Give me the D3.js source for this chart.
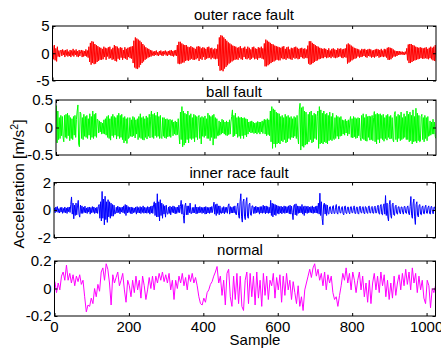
<!DOCTYPE html>
<html>
<head>
<meta charset="utf-8">
<script src="https://cdn.jsdelivr.net/npm/d3@7"></script>
<style>
  html, body { margin: 0; padding: 0; background: #fff; }
  svg { display: block; font-family: "Liberation Sans", Arial, Helvetica, sans-serif; }
  text { fill: #000; }
</style>
</head>
<body>
<svg id="chart" width="441" height="350"></svg>
<script>
// Vibration records, 1024 samples each, stored at reduced resolution.
const sampleCount = 1024;

const outerRace = [
  1.4,-1.1,1.5,-1.3,0.9,-1.5,1.2,
  -0.6,0.5,-0.7,0.4,0.6,-0.5,0.7,-0.3,0.5,-0.7,0.6,-0.4,0.7,-0.6,0.3,-0.5,0.6,-0.7,0.5,-0.4,
  0.8,-0.6,0.5,-0.3,0.7,-0.6,0.4,-0.7,0.6,-0.5,0.3,0.6,-0.7,0.5,-0.6,0.4,-0.5,0.7,-0.6,0.5,-0.8,
  1.2,-1.6,1.9,-2.1,2.2,-1.8,2.1,-2.0,1.7,-1.9,1.5,-1.6,1.3,-1.4,1.1,-1.2,
  1.0,-1.2,0.8,-1.1,1.2,-0.7,1.0,-1.2,0.9,-0.6,1.1,-1.0,1.2,-0.9,0.7,-1.2,1.0,-1.1,1.5,-1.4,
  1.3,-1.5,1.2,-1.0,0.9,-1.2,1.1,-0.8,1.0,-1.2,0.6,-0.9,1.1,-1.0,0.8,-1.2,1.0,-0.7,1.1,-0.9,1.2,-1.0,
  1.3,-1.8,2.3,-2.6,2.9,-2.8,2.7,-2.9,2.5,-2.6,2.3,-2.1,2.0,-1.8,1.7,-1.5,1.4,-1.2,1.1,-1.0,0.9,-0.8,0.8,-0.7,0.6,-0.6,
  0.5,-0.4,0.3,-0.5,0.4,-0.3,0.5,-0.4,0.2,-0.5,0.4,-0.3,0.5,-0.4,0.3,-0.5,0.4,-0.2,0.5,-0.4,
  0.3,-0.5,0.4,-0.3,0.5,-0.4,0.6,-0.5,0.4,-0.6,0.5,-0.4,0.6,-0.5,
  1.5,-1.9,2.1,-2.0,2.1,-1.9,1.8,-1.7,1.6,-1.7,1.5,-1.4,1.5,-1.3,1.2,-1.4,1.1,-1.2,1.3,-1.0,1.1,-1.2,
  1.0,-1.2,0.8,-1.1,1.2,-0.9,1.3,-1.4,1.2,-1.0,0.9,-1.2,1.1,-0.7,1.0,-1.2,0.8,-1.0,1.1,-0.9,
  1.2,-0.8,0.9,-1.1,1.0,-0.8,0.7,-1.0,0.9,-1.1,0.8,-1.0,
  1.6,-2.3,2.9,-3.2,3.3,-3.1,3.2,-3.3,2.9,-2.8,2.6,-2.5,2.3,-2.2,2.0,-1.9,1.8,-1.7,1.6,-1.5,1.4,-1.3,1.3,-1.2,1.2,-1.1,
  1.0,-1.2,1.1,-0.8,1.3,-1.1,0.9,-1.2,1.0,-0.7,1.2,-1.0,0.8,-1.1,1.2,-0.9,1.0,-1.2,0.7,-1.0,
  1.1,-0.8,1.2,-1.1,0.9,-1.0,0.8,-1.2,1.1,-0.9,1.0,-0.8,1.2,-1.0,0.9,-1.1,
  1.8,-2.4,2.5,-2.4,2.3,-2.2,2.1,-2.0,1.9,-1.8,1.7,-1.6,1.6,-1.5,1.4,-1.3,1.3,-1.2,1.2,-1.3,
  1.1,-1.3,1.0,-0.9,1.2,-1.1,1.3,-1.0,0.8,-1.2,1.1,-0.9,1.2,-1.0,0.7,-1.1,1.0,-1.2,0.9,-0.8,
  1.1,-1.0,1.2,-0.9,1.0,-1.1,0.8,-1.0,0.9,-0.7,1.0,-0.9,0.8,-1.0,0.9,-0.8,0.7,-0.9,
  1.4,-1.9,2.2,-2.1,2.2,-2.0,1.9,-1.8,1.7,-1.6,1.5,-1.4,1.3,-1.3,1.2,-1.1,1.0,-1.0,0.9,-0.9,0.8,-0.9,
  0.9,-0.7,0.8,-0.9,0.6,-0.8,0.9,-0.7,0.5,-0.9,0.8,-0.6,0.9,-0.8,0.7,-0.9,0.6,-0.8,0.9,-0.7,
  0.8,-0.6,0.9,-0.8,0.7,-0.9,0.8,-0.7,0.9,-0.8,
  1.6,-1.9,1.8,-1.7,1.6,-1.5,1.4,-1.3,1.2,-1.1,1.0,-1.0,0.9,-0.9,
  0.8,-0.6,0.7,-0.8,0.5,-0.7,0.8,-0.6,0.7,-0.5,0.8,-0.7,0.6,-0.8,0.7,-0.5,0.8,-0.6,0.7,-0.8,
  0.5,-0.7,0.6,-0.8,0.7,-0.6,0.8,-0.5,0.7,-0.8,0.6,-0.7,0.8,-0.6,0.5,-0.7,0.8,-0.6,0.7,-0.8,
  1.0,-1.2,1.1,-1.2,1.0,-1.1,0.9,-0.8,0.7,-0.6,0.5,-0.6,0.4,-0.5,0.4,-0.3,0.4,-0.3,
  0.3,-0.2,0.3,-0.3,0.2,-0.3,0.3,-0.2,
  0.9,-1.3,1.6,-1.8,1.7,-1.8,1.7,-1.6,1.5,-1.4,1.4,-1.3,1.2,-1.2,1.1,-1.1,1.0,-1.0,1.1,-0.9,1.0,-1.0,0.9,-1.0,
  1.0,-0.9,1.1,-1.0,0.8,-1.1,1.0,-0.9,1.2,-1.1,1.0,-1.3,1.2,-1.4,1.5,-1.5
];

const ballFault = [
  0.40,-0.28,0.30,-0.22,0.18,-0.20,0.22,-0.15,0.20,-0.18,
  -0.26,0.22,-0.18,0.24,-0.20,0.26,-0.15,0.22,-0.24,0.18,
  -0.20,0.16,-0.22,0.20,-0.14,0.22,-0.18,0.15,
  0.30,0.41,-0.30,-0.35,0.28,0.25,
  -0.20,0.18,-0.22,0.24,-0.16,0.20,-0.18,0.22,-0.20,0.16,-0.14,0.25,
  -0.22,0.20,-0.18,0.30,-0.20,0.24,-0.16,0.26,-0.18,0.15,
  0.14,-0.10,0.12,-0.08,0.10,-0.12,0.08,-0.11,0.14,-0.12,0.16,-0.14,
  0.20,-0.18,0.22,-0.20,0.16,-0.23,0.20,-0.15,0.24,-0.18,0.20,-0.14,0.18,-0.21,0.22,-0.16,
  0.26,-0.20,0.22,-0.18,0.24,-0.22,0.18,-0.28,0.20,-0.24,0.16,-0.29,0.18,-0.20,
  -0.18,0.18,-0.16,0.14,-0.17,0.20,-0.15,0.18,-0.19,0.14,-0.12,0.16,
  -0.22,0.20,-0.18,0.25,-0.20,0.18,-0.22,0.20,-0.23,0.16,-0.18,0.21,-0.21,0.18,-0.16,0.24,-0.19,0.20,
  0.30,-0.18,0.24,-0.20,0.26,-0.15,0.22,-0.18,0.28,-0.16,0.20,-0.20,0.22,-0.18,
  -0.20,0.18,-0.16,0.18,-0.19,0.15,-0.20,0.16,-0.17,0.14,-0.16,0.15,-0.18,0.12,
  0.14,-0.15,0.10,-0.12,0.12,-0.14,0.10,-0.13,0.16,-0.12,
  -0.30,0.28,-0.22,0.38,-0.35,0.30,-0.32,0.26,-0.28,0.24,-0.22,0.30,
  -0.28,0.22,-0.20,0.25,-0.22,0.18,-0.20,0.24,-0.26,0.22,-0.18,0.20,-0.22,0.18,
  0.22,-0.20,0.18,-0.30,0.20,-0.16,0.18,-0.18,0.21,-0.15,0.16,-0.20,
  0.26,-0.20,0.22,-0.24,0.20,-0.18,0.22,-0.32,0.24,-0.20,0.18,-0.20,0.16,-0.15,
  -0.15,0.12,-0.14,0.10,-0.12,0.15,-0.10,0.13,-0.12,0.10,-0.14,0.12,-0.15,0.10,-0.13,0.14,-0.12,0.10,
  0.20,0.32,-0.17,0.22,-0.15,0.26,-0.12,0.18,
  -0.18,0.20,-0.16,0.18,-0.20,0.19,-0.15,0.17,-0.20,0.18,-0.14,0.16,-0.17,0.15,
  -0.12,0.10,-0.08,0.11,-0.10,0.12,-0.09,0.10,-0.11,0.08,-0.10,0.09,-0.12,0.11,-0.09,0.10,
  -0.12,0.10,-0.08,0.12,-0.11,0.10,
  0.15,-0.12,0.14,-0.15,0.16,-0.13,0.14,-0.15,
  0.30,-0.26,0.38,-0.38,0.34,-0.30,0.32,-0.36,0.28,-0.30,0.26,-0.28,
  0.25,-0.30,0.20,-0.24,0.22,-0.26,0.18,-0.22,0.24,-0.28,0.20,-0.26,0.22,-0.20,0.18,-0.22,
  0.20,-0.18,0.16,-0.19,0.20,-0.16,0.18,-0.20,0.22,-0.18,
  -0.30,0.32,0.44,-0.41,0.36,-0.34,0.38,-0.36,0.30,-0.32,0.28,-0.30,
  -0.30,0.24,-0.26,0.28,-0.22,0.30,-0.28,0.22,-0.26,0.26,-0.20,0.24,-0.22,0.20,
  0.30,-0.38,0.38,-0.30,0.32,-0.28,0.26,-0.30,
  0.30,-0.26,0.24,-0.28,0.26,-0.30,0.22,-0.24,0.28,-0.22,0.20,-0.24,0.26,-0.20,
  -0.22,0.18,-0.20,0.22,-0.16,0.20,-0.21,0.18,-0.16,0.20,
  -0.15,0.14,-0.12,0.13,-0.14,0.15,-0.10,0.12,-0.15,0.14,-0.12,0.12,
  0.20,-0.18,0.16,-0.19,0.20,-0.17,0.18,-0.20,0.16,-0.19,0.18,-0.15,0.17,-0.18,
  -0.24,0.22,-0.20,0.25,-0.22,0.18,-0.24,0.24,-0.25,0.20,-0.18,0.21,-0.23,0.20,-0.22,0.22,-0.24,0.18,
  0.29,-0.26,0.24,-0.30,0.26,-0.22,0.24,-0.28,
  0.25,-0.20,0.22,-0.22,0.24,-0.25,0.18,-0.20,0.22,-0.23,0.24,-0.18,0.20,-0.21,0.22,-0.20,0.18,-0.22,
  -0.26,0.24,0.29,-0.22,0.20,-0.26,0.24,-0.20,0.22,-0.24,0.28,-0.22,0.18,-0.20,0.25,-0.18,0.20,-0.22,
  0.30,-0.22,0.24,-0.26,0.28,-0.24,0.22,-0.30,0.32,-0.26,0.20,-0.25,0.35,-0.28,0.26,-0.24,0.22,-0.26,
  -0.25,0.20,0.24,-0.22,0.18,-0.26,0.22,-0.20,0.18,-0.24,0.20,-0.16,
  -0.15,0.12,-0.14,0.10,-0.12,0.15,-0.12,0.10,-0.16,-0.20
];

const innerRace = [
  0.15,-0.20,0.22,-0.12,0.25,-0.18,0.10,-0.22,0.18,-0.15,0.20,-0.24,0.12,-0.18,0.22,-0.20,0.15,-0.25,0.20,-0.12,0.22,-0.18,
  0.40,0.95,-0.30,0.50,-0.64,0.35,-0.40,0.50,-0.35,0.30,0.70,-0.30,-0.52,0.35,-0.25,0.30,
  -0.25,0.20,-0.18,0.28,-0.22,0.15,-0.25,0.20,-0.15,0.22,-0.30,0.18,-0.20,0.25,-0.18,0.22,-0.26,0.15,-0.22,0.20,-0.25,0.28,
  0.40,-0.60,0.60,-0.80,1.35,-0.60,0.80,-1.08,1.00,-0.70,0.60,-0.90,0.75,-0.50,0.60,-0.60,0.50,-0.45,0.40,-0.45,0.35,-0.30,
  -0.25,0.20,-0.22,0.28,-0.18,0.22,-0.28,0.18,-0.15,0.22,-0.20,0.30,-0.25,0.40,-0.40,0.35,-0.22,0.25,-0.18,0.20,
  -0.25,0.22,-0.28,0.18,-0.20,0.15,-0.18,0.22,-0.30,0.25,-0.20,0.18,-0.22,0.25,-0.26,0.20,-0.18,0.30,-0.24,0.20,
  -0.22,0.18,-0.24,0.25,-0.20,0.22,-0.30,0.26,-0.22,0.30,-0.25,0.40,
  0.60,-0.40,0.50,-0.50,1.18,-0.50,0.60,-0.80,0.75,-0.40,0.50,-0.60,0.40,-0.30,0.30,-0.52,0.35,-0.25,
  -0.30,0.22,-0.25,0.28,-0.35,0.22,-0.18,0.30,-0.22,0.25,-0.28,0.20,-0.25,0.22,-0.18,0.35,-0.20,0.25,
  0.70,-0.30,0.40,-0.40,-0.96,0.30,0.50,-0.35,0.30,-0.35,0.30,-0.20,0.50,-0.25,
  -0.25,0.18,-0.22,0.20,-0.20,0.40,-0.28,0.22,-0.25,0.20,-0.22,0.25,-0.18,0.20,-0.25,
  0.18,-0.20,0.22,-0.30,0.25,-0.28,0.20,-0.22,0.18,-0.25,0.22,-0.20,0.25,-0.18,0.22,
  0.57,-0.30,0.40,-0.40,0.45,-0.25,0.30,-0.35,0.30,-0.22,
  -0.25,0.18,-0.22,0.25,-0.28,0.20,-0.18,0.20,-0.24,0.30,0.45,-0.30,0.25,-0.22,0.20,-0.22,0.25,-0.20,0.30,-0.28,-0.35,0.25,
  0.50,-0.40,-0.60,0.60,1.18,-0.50,-0.88,0.60,0.80,-0.50,-0.70,0.60,0.90,-0.45,-0.60,0.40,0.50,-0.35,-0.40,0.30,
  0.30,-0.25,0.22,-0.25,0.28,-0.20,0.22,-0.18,0.20,-0.30,0.25,-0.22,0.25,-0.24,0.35,-0.20,0.28,-0.28,0.30,-0.22,0.25,-0.25,0.20,-0.22,
  0.70,-0.40,0.50,-0.50,0.45,-0.35,0.40,-0.40,0.35,-0.25,0.30,-0.30,
  0.25,-0.22,0.28,-0.28,0.22,-0.20,0.30,-0.25,0.26,-0.22,0.24,-0.20,0.30,-0.28,0.35,-0.30,0.28,-0.20,
  -0.70,0.30,0.40,-0.35,0.45,-0.40,0.30,-0.25,0.28,-0.22,0.25,-0.20,
  0.40,-0.30,0.25,-0.40,0.30,-0.22,0.25,-0.25,0.28,-0.20,0.22,-0.18,0.25,-0.22,0.30,-0.25,0.22,-0.20,0.26,-0.22,0.30,-0.24,
  0.50,-0.30,1.22,-0.40,0.60,-0.60,-1.08,0.40,0.50,-0.30,0.40,-0.40,0.35,-0.25,
  -0.30,0.22,0.25,-0.20,-0.28,0.22,0.32,-0.25,-0.25,0.20,0.40,-0.22,-0.30,0.25,0.28,-0.20,-0.22,0.18,0.25,-0.25,
  -0.35,0.22,0.30,-0.22,-0.26,0.20,0.22,-0.18,-0.28,0.22,0.25,-0.20,-0.20,0.18,0.30,-0.25,-0.25,0.20,0.22,-0.24,
  -0.30,0.22,0.28,-0.18,-0.22,0.20,0.25,-0.22,-0.28,0.25,0.20,-0.18,-0.25,0.22,0.30,-0.20,-0.22,0.18,0.26,-0.22,
  -0.24,0.20,0.28,-0.22,-0.20,0.18,0.35,-0.25,-0.30,0.28,0.40,-0.30,-0.35,0.30,
  0.45,-0.30,1.05,-0.40,0.50,-0.50,-0.80,0.40,0.70,-0.40,-0.60,0.40,0.50,-0.35,
  -0.40,0.25,0.35,-0.25,-0.30,0.22,0.25,-0.20,-0.28,0.22,0.22,-0.18,-0.30,0.25,0.26,-0.20,-0.25,0.22,0.30,-0.25,-0.35,0.25,
  0.98,-0.40,-0.60,0.50,0.80,-0.50,-1.05,0.40,0.60,-0.40,-0.50,0.35,0.40,-0.30,
  -0.35,0.22,0.30,-0.25,-0.28,0.22,0.35,-0.22,-0.25,0.20,0.30,-0.22,-0.30,0.25,0.25,-0.20,-0.28,0.22,0.20,-0.15
];

const normalSig = [
  0.05,-0.03,0.04,-0.01,0.09,0.12,0.06,0.17,0.06,0.11,0.04,0.10,0.02,0.09,0.05,0.10,0.03,0.06,
  -0.06,-0.17,-0.12,-0.13,-0.07,-0.11,0.00,-0.06,0.03,-0.02,0.12,0.15,0.06,0.18,0.14,0.04,
  -0.12,0.10,0.04,0.08,0.12,0.02,0.06,0.11,-0.01,-0.10,0.06,0.02,-0.06,0.06,-0.03,0.09,
  -0.01,0.06,-0.07,0.09,0.02,-0.08,-0.01,0.08,0.00,0.09,-0.01,0.09,0.04,0.11,0.06,0.12,
  0.05,0.10,0.04,0.11,-0.01,0.06,-0.08,0.06,0.00,0.09,0.04,0.11,0.02,0.08,-0.01,0.10,
  0.05,0.11,0.04,0.08,0.02,-0.06,-0.11,-0.12,-0.07,-0.10,-0.03,-0.01,0.03,0.05,0.09,0.12,
  0.16,0.04,0.09,-0.05,0.06,-0.12,0.11,0.14,-0.06,-0.13,0.09,-0.08,0.11,-0.11,0.09,-0.13,
  -0.16,0.06,0.12,-0.11,0.11,-0.06,0.09,-0.12,0.12,-0.07,0.06,-0.13,0.11,-0.05,0.09,-0.08,
  0.06,0.02,0.11,-0.07,0.08,-0.01,0.10,-0.10,0.09,-0.05,0.11,-0.01,0.06,-0.08,0.05,-0.03,
  -0.11,0.02,-0.13,-0.06,-0.16,-0.01,0.04,0.09,0.14,0.08,0.15,0.18,0.09,0.14,0.06,0.11,
  0.02,0.12,-0.01,0.10,0.04,0.09,-0.03,-0.08,-0.06,-0.13,-0.05,0.02,0.11,0.06,0.15,0.04,
  0.11,-0.01,0.12,0.06,-0.03,0.06,0.12,-0.01,0.09,-0.06,0.04,-0.10,0.06,-0.11,0.04,0.11,
  -0.01,0.09,-0.03,0.12,0.02,0.10,-0.06,0.06,-0.08,0.04,-0.07,0.09,-0.05,0.04,0.10,-0.01,
  0.11,0.02,0.14,0.03,0.12,-0.01,0.15,0.04,0.11,-0.03,0.09,-0.01,0.06,-0.07,-0.11,0.06,
  0.02,-0.14,0.00,-0.03,0.02
];

const panelTitles = ["outer race fault", "ball fault", "inner race fault", "normal"];
const panelSeries = [outerRace, ballFault, innerRace, normalSig];
const lineColors = ["#ff0000", "#00ff00", "#0000ff", "#ff00ff"];
const yLimits = [[-5, 5], [-0.5, 0.5], [-2, 2], [-0.2, 0.2]];
const yTickValues = [[-5, 0, 5], [-0.5, 0, 0.5], [-2, 0, 2], [-0.2, 0, 0.2]];
const xTickValues = [0, 200, 400, 600, 800, 1000];
const xLabel = "Sample";

// Axes boxes for the four stacked panels
const boxes = [
  { left: 52.5, right: 436, top: 26, bottom: 80.5, titleX: 244, titleY: 20 },
  { left: 56, right: 436, top: 100, bottom: 155, titleX: 234, titleY: 96.5 },
  { left: 54, right: 435.5, top: 182.5, bottom: 237.5, titleX: 239, titleY: 178.3 },
  { left: 54.5, right: 435.5, top: 261, bottom: 316, titleX: 240, titleY: 255 }
];

const svg = d3.select("#chart");
svg.append("rect").attr("width", 441).attr("height", 350).attr("fill", "#fff");

const fontSize = 15;
const tickLen = 3;

boxes.forEach((b, p) => {
  const data = panelSeries[p];
  const x = d3.scaleLinear().domain([0, sampleCount]).range([b.left, b.right]);
  const y = d3.scaleLinear().domain(yLimits[p]).range([b.bottom, b.top]);
  const step = (sampleCount - 1) / (data.length - 1);

  const g = svg.append("g");

  const clipId = "clip" + p;
  g.append("clipPath").attr("id", clipId)
    .append("rect")
    .attr("x", b.left).attr("y", b.top)
    .attr("width", b.right - b.left).attr("height", b.bottom - b.top);

  const line = d3.line()
    .x((d, i) => x(1 + i * step))
    .y(d => y(d));

  g.append("path")
    .datum(data)
    .attr("clip-path", `url(#${clipId})`)
    .attr("fill", "none")
    .attr("stroke", lineColors[p])
    .attr("stroke-width", 1)
    .attr("stroke-linejoin", "round")
    .attr("d", line);

  // Inward tick marks on all four sides
  const xAxisBottom = d3.axisBottom(x).tickValues(xTickValues).tickSize(-tickLen).tickFormat("");
  const xAxisTop = d3.axisTop(x).tickValues(xTickValues).tickSize(-tickLen).tickFormat("");
  const yAxisLeft = d3.axisLeft(y).tickValues(yTickValues[p]).tickSize(-tickLen).tickFormat("");
  const yAxisRight = d3.axisRight(y).tickValues(yTickValues[p]).tickSize(-tickLen).tickFormat("");

  [
    [xAxisBottom, `translate(0,${b.bottom})`],
    [xAxisTop, `translate(0,${b.top})`],
    [yAxisLeft, `translate(${b.left},0)`],
    [yAxisRight, `translate(${b.right},0)`]
  ].forEach(([ax, tr]) => {
    const a = g.append("g").attr("transform", tr).call(ax);
    a.select(".domain").remove();
    a.selectAll("line").attr("stroke", "#000").attr("stroke-width", 1);
  });

  // Box outline
  g.append("rect")
    .attr("x", b.left).attr("y", b.top)
    .attr("width", b.right - b.left).attr("height", b.bottom - b.top)
    .attr("fill", "none").attr("stroke", "#000").attr("stroke-width", 1);

  // Y tick labels
  g.selectAll("text.ytl")
    .data(yTickValues[p])
    .enter().append("text")
    .attr("class", "ytl")
    .attr("x", b.left - 3)
    .attr("y", d => y(d))
    .attr("dy", "0.36em")
    .attr("text-anchor", "end")
    .attr("font-size", fontSize)
    .text(d => String(d));

  // Panel title
  g.append("text")
    .attr("x", b.titleX).attr("y", b.titleY)
    .attr("text-anchor", "middle")
    .attr("font-size", fontSize)
    .text(panelTitles[p]);

  // X tick labels only on the bottom panel
  if (p === boxes.length - 1) {
    g.selectAll("text.xtl")
      .data(xTickValues)
      .enter().append("text")
      .attr("class", "xtl")
      .attr("x", d => x(d))
      .attr("y", 332)
      .attr("text-anchor", "middle")
      .attr("font-size", fontSize)
      .text(d => String(d));
  }
});

// X axis label
svg.append("text")
  .attr("x", 255).attr("y", 345)
  .attr("text-anchor", "middle")
  .attr("font-size", fontSize)
  .text(xLabel);

// Shared Y axis label with superscript unit
const yl = svg.append("text")
  .attr("transform", "translate(24,184) rotate(-90)")
  .attr("text-anchor", "middle")
  .attr("font-size", 15.5);
yl.append("tspan").text("Acceleration [m/s");
yl.append("tspan").attr("font-size", 10.5).attr("dy", -6).text("2");
yl.append("tspan").attr("dy", 6).text("]");
</script>
</body>
</html>
